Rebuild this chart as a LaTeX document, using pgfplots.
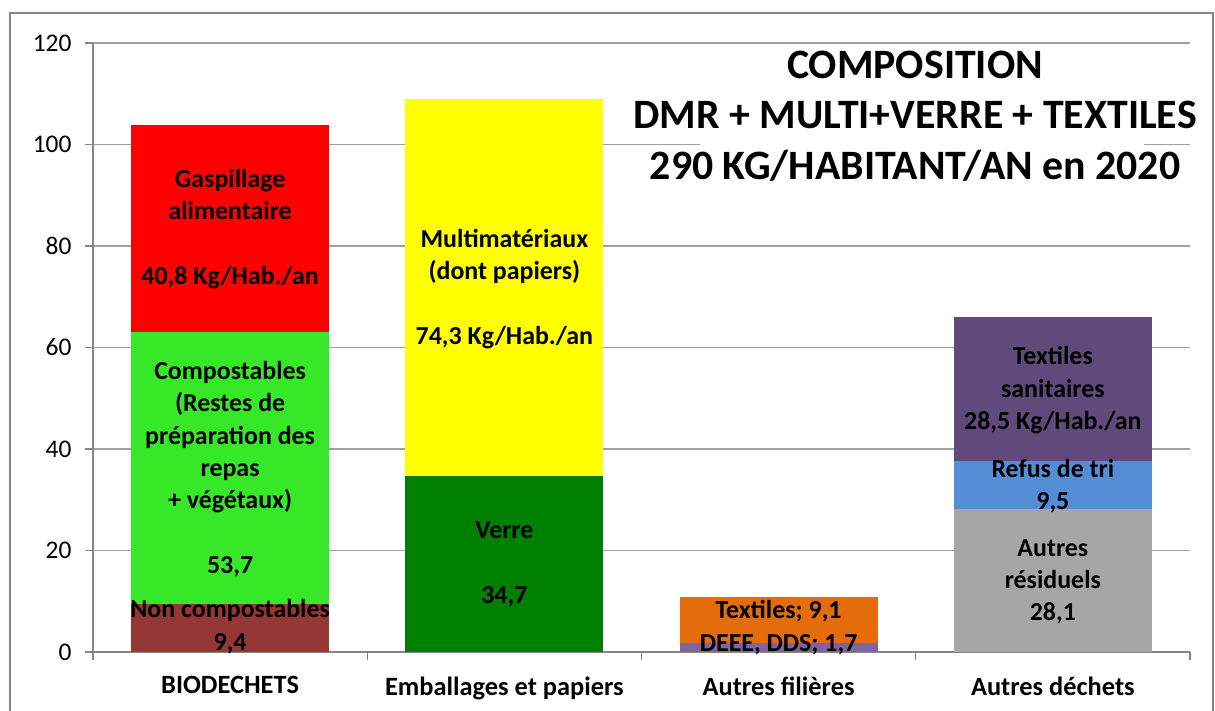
\documentclass[border=0pt]{standalone}
\usepackage{fontspec}
\setmainfont{Carlito}
\usepackage{pgfplots}
\pgfplotsset{compat=1.18}
\definecolor{noncomp}{HTML}{953735}
\definecolor{comp}{HTML}{37E828}
\definecolor{gasp}{HTML}{FF0000}
\definecolor{verre}{HTML}{008000}
\definecolor{multi}{HTML}{FFFF00}
\definecolor{deee}{HTML}{8064A2}
\definecolor{textiles}{HTML}{E46C0A}
\definecolor{autres}{HTML}{A6A6A6}
\definecolor{refus}{HTML}{558ED5}
\definecolor{texsan}{HTML}{604A7B}
\definecolor{axisgray}{HTML}{868686}
\definecolor{gridgray}{HTML}{A0A0A0}
\tikzset{lbl/.style={font=\bfseries\fontsize{26}{32.5}\selectfont, align=center, inner sep=0pt, text=black}}
\begin{document}
\begin{tikzpicture}[x=1bp,y=1bp]
\path[use as bounding box] (0,0) rectangle (1215,711);
\draw[color=axisgray, line width=1.3bp] (10,-5) rectangle (1213,698);
\begin{axis}[
  at={(93bp,59bp)}, anchor=south west,
  scale only axis, width=1097bp, height=609bp,
  xmin=-0.5, xmax=3.5, ymin=0, ymax=120,
  ybar stacked, bar width=198bp,
  axis x line*=bottom, axis y line*=left,
  axis line style={color=axisgray, line width=1.3bp},
  tick align=outside, major tick length=8bp,
  tick style={color=axisgray, line width=1.3bp},
  ytick={0,20,...,120},
  ymajorgrids, major grid style={color=gridgray, line width=1.3bp},
  yticklabel style={font=\fontsize{25.5}{28}\selectfont, xshift=-10bp},
  /pgf/number format/assume math mode=true,
  xtick={-0.5,0.5,1.5,2.5,3.5}, xticklabels={},
  extra x ticks={0,1,2,3},
  extra x tick labels={BIODECHETS, Emballages et papiers, Autres filières, Autres déchets},
  extra x tick style={major tick length=0pt, xticklabel style={font=\bfseries\fontsize{26.5}{30}\selectfont, yshift=-21bp}},
  clip=false,
]
\addplot[fill=noncomp, draw=none] coordinates {(0,9.4) (1,0) (2,0) (3,0)};
\addplot[fill=comp, draw=none] coordinates {(0,53.7) (1,0) (2,0) (3,0)};
\addplot[fill=gasp, draw=none] coordinates {(0,40.8) (1,0) (2,0) (3,0)};
\addplot[fill=verre, draw=none] coordinates {(0,0) (1,34.7) (2,0) (3,0)};
\addplot[fill=multi, draw=none] coordinates {(0,0) (1,74.3) (2,0) (3,0)};
\addplot[fill=deee, draw=none] coordinates {(0,0) (1,0) (2,1.7) (3,0)};
\addplot[fill=textiles, draw=none] coordinates {(0,0) (1,0) (2,9.1) (3,0)};
\addplot[fill=autres, draw=none] coordinates {(0,0) (1,0) (2,0) (3,28.1)};
\addplot[fill=refus, draw=none] coordinates {(0,0) (1,0) (2,0) (3,9.5)};
\addplot[fill=texsan, draw=none] coordinates {(0,0) (1,0) (2,0) (3,28.5)};
\coordinate (L1) at (axis cs:0,83.3);
\coordinate (L2) at (axis cs:0,36.0);
\coordinate (L3) at (axis cs:0,5.0);
\coordinate (L4) at (axis cs:1,71.5);
\coordinate (L5) at (axis cs:1,17.3);
\coordinate (L6) at (axis cs:2,8.1);
\coordinate (L7) at (axis cs:2,1.4);
\coordinate (L8) at (axis cs:3,51.6);
\coordinate (L9) at (axis cs:3,32.7);
\coordinate (L10) at (axis cs:3,13.8);
\end{axis}
\node[lbl] at (L1) {Gaspillage\\alimentaire\\[32.5bp]40,8 Kg/Hab./an};
\node[lbl] at (L2) {Compostables\\(Restes de\\préparation des\\repas\\+ végétaux)\\[32.5bp]53,7};
\node[lbl] at (L3) {Non compostables\\9,4};
\node[lbl] at (L4) {Multimatériaux\\(dont papiers)\\[32.5bp]74,3 Kg/Hab./an};
\node[lbl] at (L5) {Verre\\[32.5bp]34,7};
\node[lbl] at (L6) {Textiles; 9,1};
\node[lbl] at (L7) {DEEE, DDS; 1,7};
\node[lbl] at (L8) {Textiles\\sanitaires\\28,5 Kg/Hab./an};
\node[lbl] at (L9) {Refus de tri\\9,5};
\node[lbl] at (L10) {Autres\\résiduels\\28,1};
\fill[white] (700,521) rectangle (1144,661);
\node[font=\bfseries\fontsize{42}{50.5}\selectfont, align=center, inner sep=0pt] at (915,595) {COMPOSITION\\DMR + MULTI+VERRE + TEXTILES\\290 KG/HABITANT/AN en 2020};
\end{tikzpicture}
\end{document}
